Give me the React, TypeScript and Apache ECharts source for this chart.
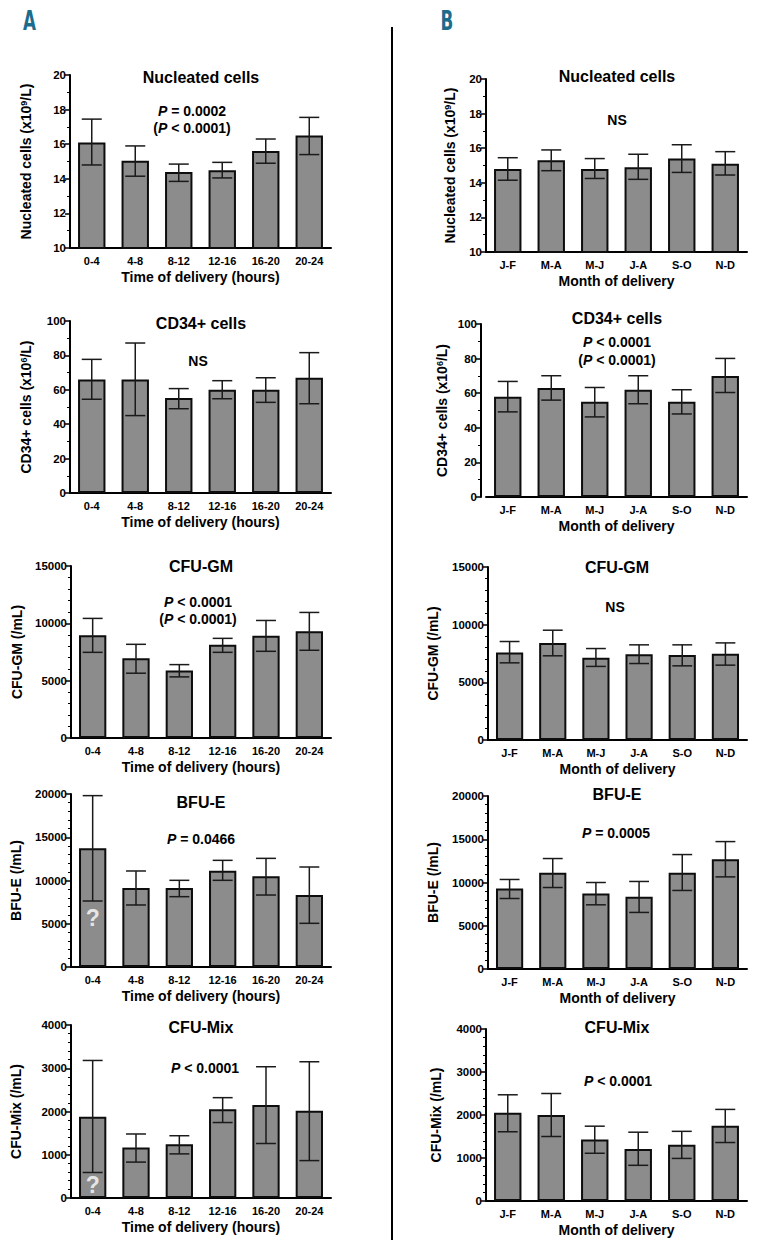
import React, { useEffect, useRef } from 'react';
import * as echarts from 'echarts';

const hourCats = ['0-4', '4-8', '8-12', '12-16', '16-20', '20-24'];
const monthCats = ['J-F', 'M-A', 'M-J', 'J-A', 'S-O', 'N-D'];

// Column A: time of delivery
const aNucMean = [16.1, 15.05, 14.4, 14.5, 15.6, 16.5];
const aNucLow = [14.8, 14.15, 13.85, 14.05, 14.9, 15.4];
const aNucHigh = [17.45, 15.9, 14.85, 14.95, 16.3, 17.55];
const aCd34Mean = [66, 66, 55.2, 60.1, 60, 67];
const aCd34Low = [54.5, 45, 49, 54.8, 52.7, 51.9];
const aCd34High = [77.7, 87.2, 60.7, 65.3, 67, 81.6];
const aGmMean = [8950, 6950, 5880, 8140, 8920, 9300];
const aGmLow = [7470, 5650, 5330, 7470, 7560, 7650];
const aGmHigh = [10430, 8170, 6400, 8690, 10250, 10950];
const aBfuMean = [13720, 9130, 9130, 11140, 10480, 8320];
const aBfuLow = [7630, 7170, 8130, 10020, 8320, 5050];
const aBfuHigh = [19810, 11100, 10020, 12330, 12560, 11560];
const aMixMean = [1880, 1170, 1240, 2050, 2150, 2020];
const aMixLow = [590, 830, 1020, 1745, 1260, 865];
const aMixHigh = [3180, 1480, 1440, 2320, 3035, 3150];

// Column B: month of delivery
const bNucMean = [14.8, 15.3, 14.8, 14.9, 15.4, 15.1];
const bNucLow = [14.15, 14.7, 14.25, 14.2, 14.6, 14.45];
const bNucHigh = [15.45, 15.9, 15.4, 15.65, 16.2, 15.8];
const bCd34Mean = [58, 63, 55, 62, 55, 70];
const bCd34Low = [49.2, 56, 46.3, 53.9, 48, 60.4];
const bCd34High = [66.8, 70.1, 63.3, 70.1, 62, 80.1];
const bGmMean = [7590, 8420, 7130, 7440, 7360, 7470];
const bGmLow = [6690, 7300, 6380, 6630, 6430, 6490];
const bGmHigh = [8540, 9520, 7930, 8250, 8250, 8420];
const bBfuMean = [9310, 11120, 8730, 8350, 11120, 12690];
const bBfuLow = [8150, 9420, 7420, 6540, 9080, 10650];
const bBfuHigh = [10350, 12770, 10000, 10120, 13230, 14730];
const bMixMean = [2050, 2000, 1430, 1210, 1310, 1750];
const bMixLow = [1610, 1500, 1110, 830, 990, 1360];
const bMixHigh = [2470, 2500, 1740, 1600, 1620, 2130];

// "?" markers (category 0-4)
const qBfuValue = [5660];
const qMixValue = [300];

const FONT = '"Liberation Sans", Arial, sans-serif';

type Panel = {
  cats: string[];
  mean: number[];
  low: number[];
  high: number[];
  title: string;
  yName: string;
  xName: string;
  min: number;
  max: number;
  interval: number;
  minorSplit: number;
  left: number;
  top: number;
  height: number;
  nameGap: number;
  yOffset?: number;
  pLines: string[];
  pX: number;
  pY: number[];
  titleY: number;
  q?: number[];
};

const AX = 70;
const BX = 486;
const W = 261;
const xA = 'Time of delivery (hours)';
const xB = 'Month of delivery';

const panels: Panel[] = [
  { cats: hourCats, mean: aNucMean, low: aNucLow, high: aNucHigh, title: 'Nucleated cells', yName: 'Nucleated cells (x10{sup|9}/L)', xName: xA, min: 10, max: 20, interval: 2, minorSplit: 2, left: AX, top: 75, height: 173, nameGap: 37, pLines: ['{i|P} = 0.0002', '({i|P} < 0.0001)'], pX: 192, pY: [111, 128], titleY: 77 },
  { cats: hourCats, mean: aCd34Mean, low: aCd34Low, high: aCd34High, title: 'CD34+ cells', yName: 'CD34+ cells (x10{sup|6}/L)', xName: xA, min: 0, max: 100, interval: 20, minorSplit: 2, left: AX, top: 321, height: 172, nameGap: 37, pLines: ['NS'], pX: 198, pY: [361], titleY: 323 },
  { cats: hourCats, mean: aGmMean, low: aGmLow, high: aGmHigh, title: 'CFU-GM', yName: 'CFU-GM (/mL)', xName: xA, min: 0, max: 15000, interval: 5000, minorSplit: 5, left: AX + 1, top: 566, height: 172, nameGap: 47, pLines: ['{i|P} < 0.0001', '({i|P} < 0.0001)'], pX: 198, pY: [602, 619], titleY: 566 },
  { cats: hourCats, mean: aBfuMean, low: aBfuLow, high: aBfuHigh, title: 'BFU-E', yName: 'BFU-E (/mL)', xName: xA, min: 0, max: 20000, interval: 5000, minorSplit: 5, left: AX + 1, top: 794, height: 173, nameGap: 48, pLines: ['{i|P} = 0.0466'], pX: 201, pY: [839], titleY: 802, q: qBfuValue },
  { cats: hourCats, mean: aMixMean, low: aMixLow, high: aMixHigh, title: 'CFU-Mix', yName: 'CFU-Mix (/mL)', xName: xA, min: 0, max: 4000, interval: 1000, minorSplit: 5, left: AX + 1, top: 1025, height: 173, nameGap: 48, pLines: ['{i|P} < 0.0001'], pX: 205, pY: [1068], titleY: 1027, q: qMixValue },
  { cats: monthCats, mean: bNucMean, low: bNucLow, high: bNucHigh, title: 'Nucleated cells', yName: 'Nucleated cells (x10{sup|9}/L)', xName: xB, min: 10, max: 20, interval: 2, minorSplit: 2, left: BX, top: 79, height: 173, nameGap: 29, pLines: ['NS'], pX: 617, pY: [120], titleY: 76 },
  { cats: monthCats, mean: bCd34Mean, low: bCd34Low, high: bCd34High, title: 'CD34+ cells', yName: 'CD34+ cells (x10{sup|6}/L)', xName: xB, min: 0, max: 100, interval: 20, minorSplit: 2, left: BX, top: 324, height: 173, nameGap: 32, yOffset: 5, pLines: ['{i|P} < 0.0001', '({i|P} < 0.0001)'], pX: 617, pY: [342, 360], titleY: 318 },
  { cats: monthCats, mean: bGmMean, low: bGmLow, high: bGmHigh, title: 'CFU-GM', yName: 'CFU-GM (/mL)', xName: xB, min: 0, max: 15000, interval: 5000, minorSplit: 5, left: BX + 2, top: 567, height: 173, nameGap: 48, pLines: ['NS'], pX: 615, pY: [607], titleY: 567 },
  { cats: monthCats, mean: bBfuMean, low: bBfuLow, high: bBfuHigh, title: 'BFU-E', yName: 'BFU-E (/mL)', xName: xB, min: 0, max: 20000, interval: 5000, minorSplit: 5, left: BX + 2, top: 796, height: 173, nameGap: 48, pLines: ['{i|P} = 0.0005'], pX: 616, pY: [833], titleY: 794 },
  { cats: monthCats, mean: bMixMean, low: bMixLow, high: bMixHigh, title: 'CFU-Mix', yName: 'CFU-Mix (/mL)', xName: xB, min: 0, max: 4000, interval: 1000, minorSplit: 5, left: BX, top: 1029, height: 172, nameGap: 43, pLines: ['{i|P} < 0.0001'], pX: 618, pY: [1081], titleY: 1027 },
];

function buildOption() {
  const grid: any[] = [];
  const xAxis: any[] = [];
  const yAxis: any[] = [];
  const series: any[] = [];
  const graphic: any[] = [];

  panels.forEach((p, k) => {
    const width = (p.left >= BX ? BX : AX) + W - p.left;
    grid.push({ left: p.left, top: p.top, width, height: p.height, containLabel: false });
    xAxis.push({
      gridIndex: k,
      type: 'category',
      data: p.cats,
      axisLine: { lineStyle: { color: '#000', width: 2 } },
      axisTick: { show: false },
      axisLabel: { color: '#000', fontWeight: 'bold', fontSize: 11, fontFamily: FONT, margin: 7 },
      name: p.xName,
      nameLocation: 'middle',
      nameGap: 22,
      nameTextStyle: { color: '#000', fontWeight: 'bold', fontSize: 14, fontFamily: FONT },
    });
    yAxis.push({
      gridIndex: k,
      type: 'value',
      min: p.min,
      max: p.max,
      interval: p.interval,
      offset: p.yOffset || 0,
      axisLine: { show: true, lineStyle: { color: '#000', width: 2 } },
      axisTick: { show: true, length: 5, lineStyle: { color: '#000', width: 1.5 } },
      minorTick: { show: true, splitNumber: p.minorSplit, length: 3, lineStyle: { color: '#000', width: 1 } },
      splitLine: { show: false },
      axisLabel: {
        color: '#000', fontWeight: 'bold', fontSize: 11.5, fontFamily: FONT, margin: 4,
        formatter: (v: number) => String(v),
      },
      name: p.yName,
      nameLocation: 'middle',
      nameGap: p.nameGap,
      nameTextStyle: {
        color: '#000', fontWeight: 'bold', fontSize: 14, fontFamily: FONT,
        rich: { sup: { fontSize: 9, fontWeight: 'bold', fontFamily: FONT, color: '#000', verticalAlign: 'top' } },
      },
    });
    series.push({
      type: 'bar',
      xAxisIndex: k,
      yAxisIndex: k,
      data: p.mean,
      barWidth: '63%',
      clip: true,
      itemStyle: { color: '#8c8c8c', borderColor: '#0d0d0d', borderWidth: 2 },
      z: 2,
    });
    series.push({
      type: 'custom',
      xAxisIndex: k,
      yAxisIndex: k,
      z: 3,
      encode: { x: 0, y: [1, 2] },
      data: p.cats.map((_, i) => [i, p.low[i], p.high[i]]),
      renderItem: (params: any, api: any) => {
        const x = api.value(0);
        const lo = api.coord([x, api.value(1)]);
        const hi = api.coord([x, api.value(2)]);
        const half = api.size([1, 0])[0] * 0.23;
        const style = { stroke: '#1a1a1a', lineWidth: 1.5 };
        return {
          type: 'group',
          children: [
            { type: 'line', shape: { x1: hi[0], y1: hi[1], x2: lo[0], y2: lo[1] }, style },
            { type: 'line', shape: { x1: hi[0] - half, y1: hi[1], x2: hi[0] + half, y2: hi[1] }, style },
            { type: 'line', shape: { x1: lo[0] - half, y1: lo[1], x2: lo[0] + half, y2: lo[1] }, style },
          ],
        };
      },
    });
    if (p.q) {
      series.push({
        type: 'scatter',
        xAxisIndex: k,
        yAxisIndex: k,
        z: 4,
        symbolSize: 1,
        itemStyle: { color: 'rgba(0,0,0,0)' },
        data: p.q.map((v) => [0, v]),
        label: { show: true, position: 'inside', formatter: '?', color: '#ffffff', fontSize: 23, fontWeight: 'bold', fontFamily: FONT },
      });
    }
    const cx = (p.left >= BX ? BX : AX) + W / 2 + 0.5;
    graphic.push({
      type: 'text',
      x: cx,
      y: p.titleY,
      style: { text: p.title, fill: '#000', font: `bold 16px ${FONT}`, align: 'center', verticalAlign: 'middle' },
    });
    p.pLines.forEach((line, j) => {
      graphic.push({
        type: 'text',
        x: p.pX,
        y: p.pY[j],
        style: {
          text: line,
          fill: '#000',
          font: `bold 14px ${FONT}`,
          align: 'center',
          verticalAlign: 'middle',
          rich: { i: { fontStyle: 'italic', fontWeight: 'bold', fontSize: 14, fontFamily: FONT, fill: '#000' } },
        },
      });
    });
  });

  graphic.push({ type: 'line', shape: { x1: 392, y1: 27, x2: 392, y2: 1240 }, style: { stroke: '#000', lineWidth: 2 } });
  graphic.push({ type: 'text', x: 29.5, y: 20, scaleX: 0.62, style: { text: 'A', fill: '#1c6d8c', font: 'bold 27px "DejaVu Sans", sans-serif', align: 'center', verticalAlign: 'middle' } });
  graphic.push({ type: 'text', x: 447, y: 20, scaleX: 0.62, style: { text: 'B', fill: '#1c6d8c', font: 'bold 27px "DejaVu Sans", sans-serif', align: 'center', verticalAlign: 'middle' } });

  return { animation: false, backgroundColor: '#fff', grid, xAxis, yAxis, series, graphic };
}

export default function App() {
  const ref = useRef<HTMLDivElement>(null);
  useEffect(() => {
    if (!ref.current) return;
    const chart = echarts.init(ref.current, null, { renderer: 'svg' });
    chart.setOption(buildOption() as any);
    return () => chart.dispose();
  }, []);
  return <div ref={ref} style={{ position: 'absolute', left: 0, top: 0, width: 760, height: 1248 }} />;
}
